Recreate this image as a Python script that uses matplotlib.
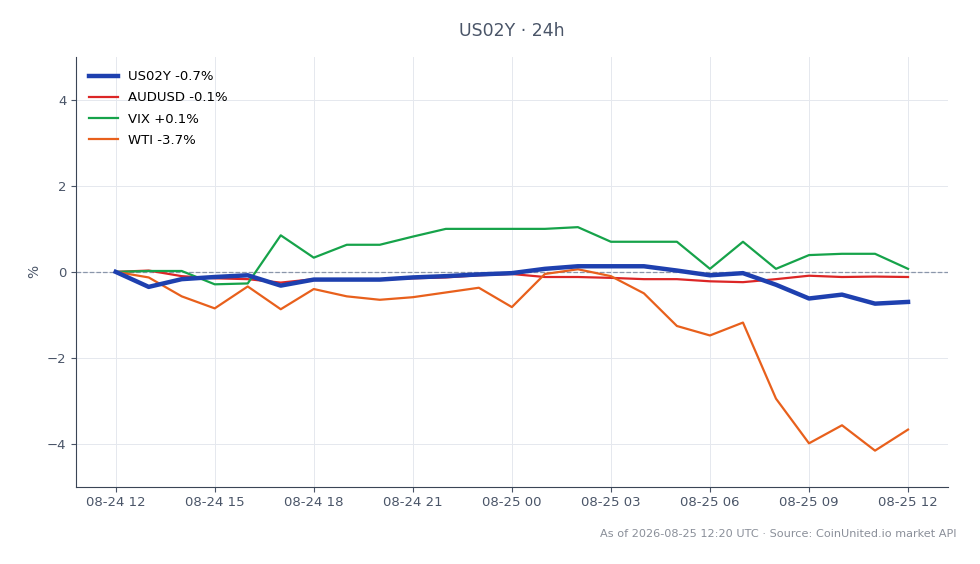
import pandas as pd
import matplotlib
matplotlib.use("Agg")
import matplotlib.pyplot as plt
import matplotlib.dates as mdates

# hourly % change since 2026-08-24 12:00 UTC
times = pd.date_range("2026-08-24 12:00", periods=25, freq="h")

us02y = [0.0, -0.35, -0.17, -0.12, -0.08, -0.32, -0.18, -0.18, -0.18, -0.13, -0.10, -0.06, -0.03,
         0.07, 0.13, 0.13, 0.13, 0.03, -0.08, -0.03, -0.30, -0.62, -0.53, -0.74, -0.70]
audusd = [0.0, 0.03, -0.10, -0.15, -0.17, -0.25, -0.17, -0.18, -0.18, -0.15, -0.13, -0.08, -0.05,
          -0.12, -0.12, -0.14, -0.17, -0.17, -0.22, -0.24, -0.17, -0.09, -0.12, -0.11, -0.12]
vix = [0.0, 0.02, 0.02, -0.29, -0.27, 0.85, 0.33, 0.63, 0.63, 0.82, 1.0, 1.0, 1.0,
       1.0, 1.04, 0.70, 0.70, 0.70, 0.07, 0.70, 0.07, 0.39, 0.42, 0.42, 0.07]
wti = [0.0, -0.13, -0.57, -0.85, -0.34, -0.87, -0.40, -0.57, -0.65, -0.59, -0.48, -0.37, -0.82,
       -0.05, 0.06, -0.10, -0.50, -1.26, -1.48, -1.18, -2.95, -3.99, -3.57, -4.16, -3.67]

series = [
    ("US02Y -0.7%", us02y, "#1e40af", 3.2),
    ("AUDUSD -0.1%", audusd, "#dc2626", 1.6),
    ("VIX +0.1%", vix, "#16a34a", 1.6),
    ("WTI -3.7%", wti, "#e8601c", 1.6),
]

fig, ax = plt.subplots(figsize=(9.8, 5.64), dpi=100)
fig.subplots_adjust(left=0.0776, right=0.967, top=0.899, bottom=0.137)

ax.axhline(0, color="#8a96aa", lw=0.9, ls="--", zorder=1)
for label, vals, color, lw in series:
    ax.plot(times, vals, label=label, color=color, lw=lw, zorder=3 if lw > 2 else 2)

ax.set_ylim(-5, 5)
ax.set_yticks([-4, -2, 0, 2, 4])
ax.xaxis.set_major_locator(mdates.HourLocator(byhour=range(0, 24, 3)))
ax.xaxis.set_major_formatter(mdates.DateFormatter("%m-%d %H"))
ax.grid(True, color="#e5e8ee", lw=0.7)
ax.set_axisbelow(True)
for s in ("top", "right"):
    ax.spines[s].set_visible(False)
for s in ("left", "bottom"):
    ax.spines[s].set_color("#3a4556")
ax.tick_params(colors="#4a5568", labelsize=9.5)
ax.set_ylabel("%", color="#4a5568", fontsize=10)
ax.set_title("US02Y · 24h", color="#4a5568", fontsize=12.5, pad=15)

leg = ax.legend(loc="upper left", frameon=False, fontsize=9.5, handlelength=2.2,
                labelspacing=0.62, borderaxespad=0.6, handletextpad=0.7)

fig.text(0.976, 0.053, "As of 2026-08-25 12:20 UTC · Source: CoinUnited.io market API",
         ha="right", va="center", fontsize=8.1, color="#8a8f99")

fig.savefig("out.png", dpi=100)
